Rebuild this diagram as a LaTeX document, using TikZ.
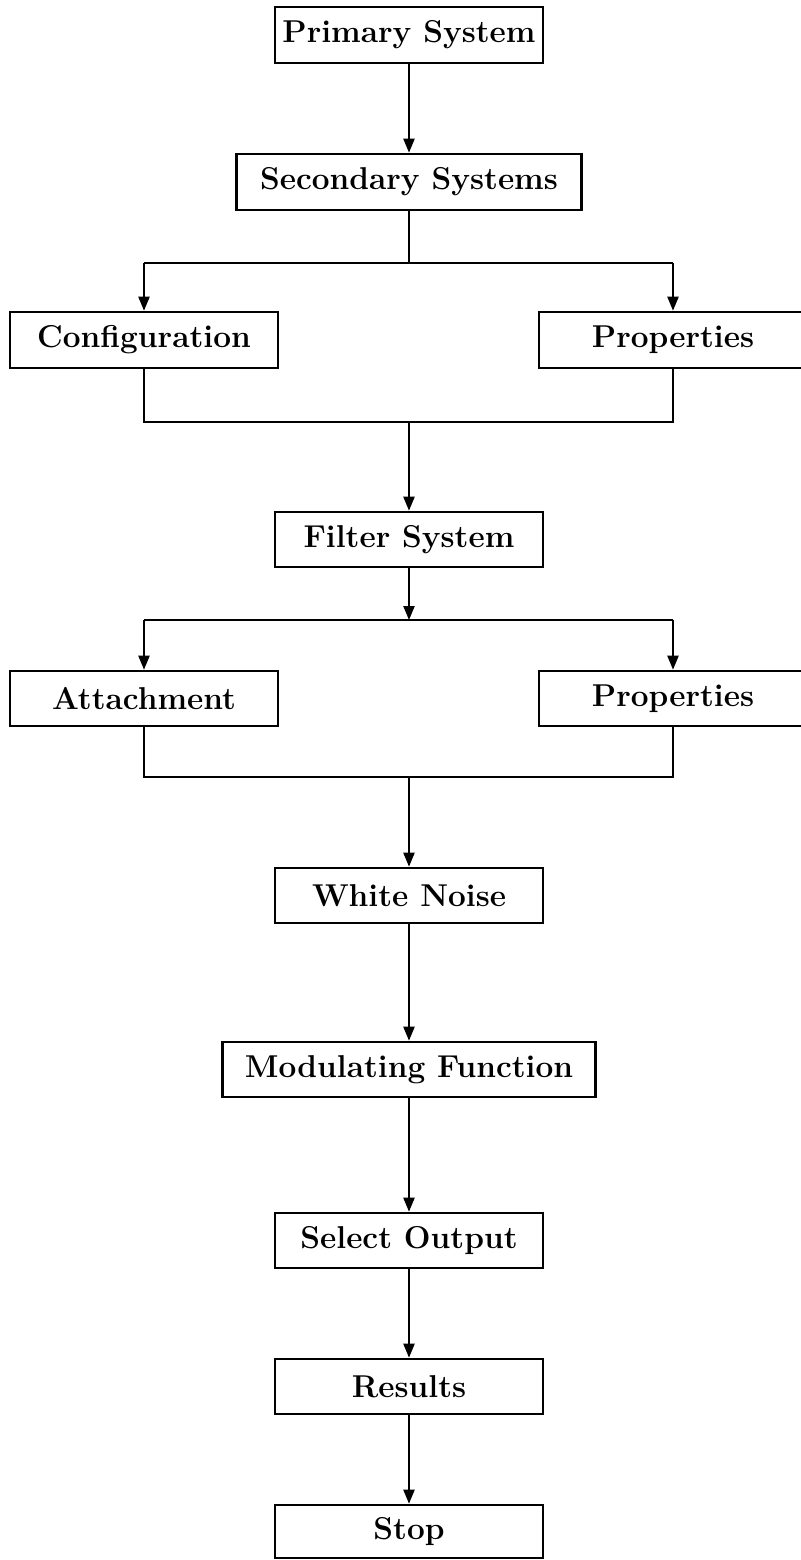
\documentclass[tikz,border=0pt]{standalone}
\usetikzlibrary{arrows.meta}
\begin{document}
\begin{tikzpicture}[x=0.5pt,y=-0.5pt,
  stepbox/.style={draw,line width=1.3pt,inner sep=0pt,minimum width=134pt,minimum height=28pt,
    font=\fontsize{15.8}{18}\selectfont\bfseries},
  conn/.style={line width=1.1pt},
  arr/.style={conn,-{Triangle[length=7pt,width=5.5pt]}}]
\useasboundingbox (0,0) rectangle (801,1560);
\node[stepbox] (prim) at (409,35) {Primary System};
\node[stepbox,minimum width=172.5pt] (sec) at (409,182) {Secondary Systems};
\node[stepbox] (conf) at (144,340) {Configuration};
\node[stepbox] (prop1) at (673,340) {Properties};
\node[stepbox,minimum height=27.5pt] (filt) at (409,539.5) {Filter System};
\node[stepbox,minimum height=27.5pt] (att) at (144,698.5) {Attachment};
\node[stepbox,minimum height=27.5pt] (prop2) at (673,698.5) {Properties};
\node[stepbox,minimum height=27.5pt] (wn) at (409,895.5) {White Noise};
\node[stepbox,minimum width=186.5pt,minimum height=27.5pt] (mod) at (409,1069.5) {Modulating Function};
\node[stepbox,minimum height=27.5pt] (sel) at (409,1240.5) {Select Output};
\node[stepbox,minimum height=27.5pt] (res) at (409,1386.5) {Results};
\node[stepbox,minimum height=26.5pt] (stop) at (409,1531.5) {Stop};
\coordinate (b1) at (409,263);
\coordinate (b1l) at (144,263);
\coordinate (b1r) at (673,263);
\coordinate (m1) at (409,422);
\coordinate (m1l) at (144,422);
\coordinate (m1r) at (673,422);
\coordinate (b2) at (409,620);
\coordinate (b2l) at (144,620);
\coordinate (b2r) at (673,620);
\coordinate (m2) at (409,777);
\coordinate (m2l) at (144,777);
\coordinate (m2r) at (673,777);
\draw[arr] (prim) -- (sec);
\draw[conn] (sec) -- (b1);
\draw[conn] (b1l) -- (b1r);
\draw[arr] (b1l) -- (conf);
\draw[arr] (b1r) -- (prop1);
\draw[conn] (conf) -- (m1l) -- (m1r) -- (prop1);
\draw[arr] (m1) -- (filt);
\draw[arr] (filt) -- (b2);
\draw[conn] (b2l) -- (b2r);
\draw[arr] (b2l) -- (att);
\draw[arr] (b2r) -- (prop2);
\draw[conn] (att) -- (m2l) -- (m2r) -- (prop2);
\draw[arr] (m2) -- (wn);
\draw[arr] (wn) -- (mod);
\draw[arr] (mod) -- (sel);
\draw[arr] (sel) -- (res);
\draw[arr] (res) -- (stop);
\end{tikzpicture}
\end{document}
